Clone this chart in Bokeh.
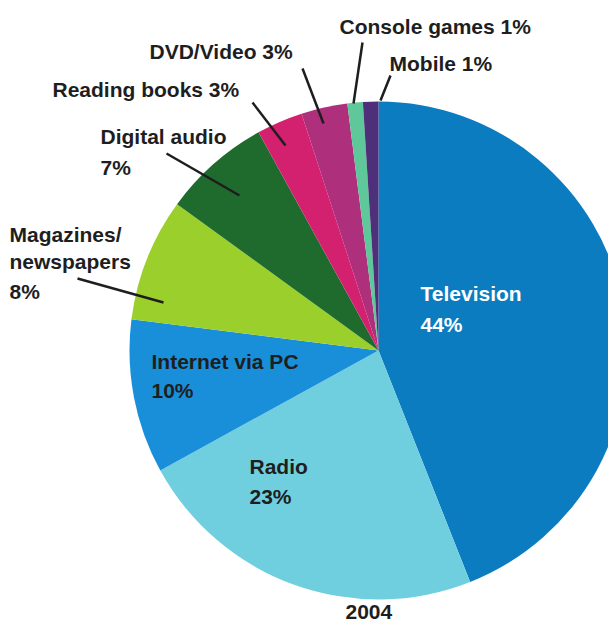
import math
from bokeh.plotting import figure
from bokeh.models import Range1d, ColumnDataSource
from bokeh.core.properties import value
from bokeh.embed import file_html
from bokeh.resources import INLINE

# ---- data ----
categories = ["Television", "Radio", "Internet via PC", "Magazines/newspapers",
              "Digital audio", "Reading books", "DVD/Video", "Console games", "Mobile"]
shares = [44, 23, 10, 8, 7, 3, 3, 1, 1]
colors = ["#0b7cc0", "#70cfdf", "#1a8fd9", "#9bcf2b", "#1f6b2d",
          "#d4216f", "#ae2f7c", "#5ec89b", "#4d2f7a"]
year_label = "2004"

# ---- layout (pixel coordinates in the picture) ----
CX, CY, R = 378, 350, 249
W, H = 608, 623
TXT_DY = 7  # text baseline correction


def X(px):
    return px - CX


def Y(py):
    return CY - py


p = figure(width=W, height=H,
           x_range=Range1d(0 - CX, W - CX),
           y_range=Range1d(CY - H, CY - 0),
           output_backend="svg", toolbar_location=None,
           x_axis_location=None, y_axis_location=None,
           min_border=0, outline_line_color=None)
p.grid.visible = False
p.background_fill_color = "white"
p.border_fill_color = "white"

# wedges, clockwise from 12 o'clock
starts, ends = [], []
cum = 0.0
total = float(sum(shares))
for s in shares:
    starts.append(math.pi / 2 - 2 * math.pi * cum / total)
    cum += s
    ends.append(math.pi / 2 - 2 * math.pi * cum / total)

src = ColumnDataSource(dict(start=starts, end=ends, color=colors, cat=categories))
p.wedge(x=0, y=0, radius=R, start_angle="start", end_angle="end",
        direction="clock", fill_color="color", line_color=None, source=src)

# label texts built from the data
pct = {c: f"{s}%" for c, s in zip(categories, shares)}
dark = "#1e1e1e"
label_lines = [
    ("Television", 420, 300, "white"),
    (pct["Television"], 420, 331, "white"),
    ("Radio", 249, 473, dark),
    (pct["Radio"], 249, 503, dark),
    ("Internet via PC", 151, 368, dark),
    (pct["Internet via PC"], 151, 397, dark),
    ("Magazines/", 9, 241, dark),
    ("newspapers", 9, 268, dark),
    (pct["Magazines/newspapers"], 9, 298, dark),
    ("Digital audio", 100, 143, dark),
    (pct["Digital audio"], 100, 174, dark),
    ("Reading books  " + pct["Reading books"], 52, 96, dark),
    ("DVD/Video " + pct["DVD/Video"], 149, 58, dark),
    ("Console games " + pct["Console games"], 339, 33, dark),
    ("Mobile " + pct["Mobile"], 389, 70, dark),
    (year_label, 345, 618, dark),
]
tsrc = ColumnDataSource(dict(
    x=[X(l[1]) for l in label_lines],
    y=[Y(l[2] - TXT_DY) for l in label_lines],
    text=[l[0] for l in label_lines],
    color=[l[3] for l in label_lines],
))
p.text(x="x", y="y", text="text", text_color="color", source=tsrc,
       text_font=value("Liberation Sans"), text_font_style="bold",
       text_font_size="21px", text_align="left", text_baseline="alphabetic")

# leader lines (label end -> slice)
leaders = [
    (362, 42, 353, 103),
    (390, 75, 380, 100),
    (302, 68, 323, 123),
    (252, 102, 285, 145),
    (166, 153, 239, 195),
    (77, 278, 163, 302),
]
lsrc = ColumnDataSource(dict(
    x0=[X(a) for a, b, c, d in leaders], y0=[Y(b) for a, b, c, d in leaders],
    x1=[X(c) for a, b, c, d in leaders], y1=[Y(d) for a, b, c, d in leaders],
))
p.segment(x0="x0", y0="y0", x1="x1", y1="y1", line_color=dark,
          line_width=2.5, source=lsrc)

open("out.html", "w").write(file_html(p, INLINE))
